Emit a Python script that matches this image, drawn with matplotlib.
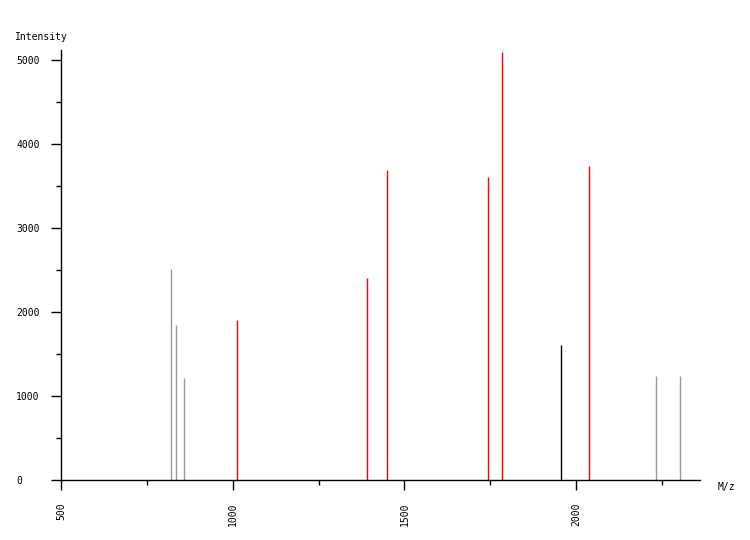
import matplotlib
matplotlib.use("Agg")
import matplotlib.pyplot as plt
from matplotlib.ticker import MultipleLocator

# peaks
gray_mz = [821, 836, 859, 2234, 2304]
gray_int = [2510, 1845, 1215, 1240, 1240]

red_mz = [1014, 1392, 1448, 1745, 1785, 2037]
red_int = [1905, 2405, 3690, 3605, 5095, 3740]

black_mz = [1956]
black_int = [1607]

x_ticks = [500, 1000, 1500, 2000]
y_ticks = [0, 1000, 2000, 3000, 4000, 5000]

FONT = "DejaVu Sans Mono"

fig = plt.figure(figsize=(7.5, 5.4), dpi=100)
ax = fig.add_axes([61 / 750, 1 - 480 / 540, (700 - 61) / 750, (480 - 50) / 540])

ax.vlines(gray_mz, 0, gray_int, color="#999999", lw=1)
ax.vlines(red_mz, 0, red_int, color="#ff0000", lw=1)
ax.vlines(black_mz, 0, black_int, color="#000000", lw=1)

ax.set_xlim(500, 2361)
ax.set_ylim(0, 5120)

for s in ["top", "right"]:
    ax.spines[s].set_visible(False)
for s in ["left", "bottom"]:
    ax.spines[s].set_linewidth(1)

ax.set_xticks(x_ticks)
ax.set_xticklabels([str(v) for v in x_ticks], rotation=90,
                   fontsize=7, family=FONT)
ax.xaxis.set_minor_locator(MultipleLocator(250))
ax.set_yticks(y_ticks)
ax.set_yticklabels([str(v) for v in y_ticks], fontsize=7, family=FONT,
                   ha="left")
ax.yaxis.set_minor_locator(MultipleLocator(500))

ax.tick_params(axis="x", which="major", length=7.2, width=1, pad=9)
ax.tick_params(axis="x", which="minor", length=3.6, width=1)
ax.tick_params(axis="y", which="major", length=7.2, width=1, pad=25)
ax.tick_params(axis="y", which="minor", length=3.6, width=1)

fig.text(15 / 750, 1 - 37 / 540, "Intensity", fontsize=7, family=FONT,
         ha="left", va="center")
fig.text(718 / 750, 1 - 487 / 540, "M/z", fontsize=7, family=FONT,
         ha="left", va="center")

fig.savefig("out.png", dpi=100, facecolor="white")
